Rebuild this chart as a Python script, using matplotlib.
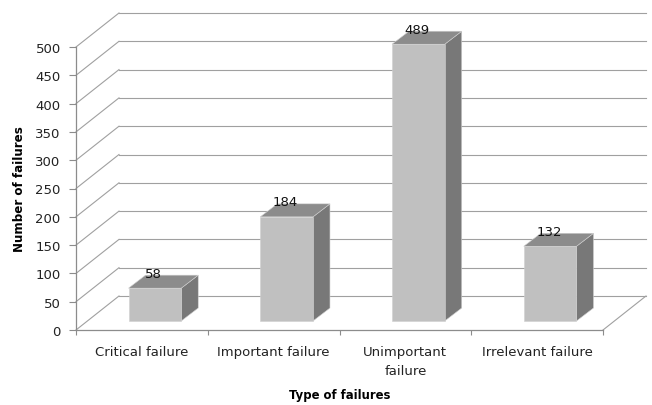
import matplotlib
matplotlib.use('Agg')
import matplotlib.pyplot as plt
import numpy as np
from matplotlib.patches import Polygon
from matplotlib.lines import Line2D
from matplotlib.transforms import IdentityTransform

# ---- data ----
categories = ['Critical failure', 'Important failure', 'Unimportant\nfailure', 'Irrelevant failure']
values = [58, 184, 489, 132]
y_ticks = [0, 50, 100, 150, 200, 250, 300, 350, 400, 450, 500]
x_title = 'Type of failures'
y_title = 'Number of failures'

# ---- style / geometry (pixels) ----
W, H = 652, 406
WALL = (43, 34)        # depth offset of back wall
BAR_OFF = (13, 9)      # offset of bar front face from front plane
BAR_DEPTH = (17, 13)   # depth of bars
BAR_W = 0.40           # bar width in category units
FRONT = '#c0c0c0'
TOP = '#8c8c8c'
SIDE = '#787878'
GRID = '#a0a0a0'
AXIS = '#8c8c8c'

plt.rcParams['font.family'] = ['DejaVu Sans']

fig = plt.figure(figsize=(W / 100, H / 100), dpi=100)
fig.patch.set_facecolor('white')
ax = fig.add_axes([76 / W, (H - 331) / H, (603 - 76) / W, (331 - 48) / H])
ax.set_xlim(0, len(categories))
ax.set_ylim(0, 500)
ax.patch.set_visible(False)
for s in ['top', 'right']:
    ax.spines[s].set_visible(False)
for s in ['left', 'bottom']:
    ax.spines[s].set_color(AXIS)
    ax.spines[s].set_linewidth(0.9)

ax.set_yticks(y_ticks)
ax.set_yticklabels([str(v) for v in y_ticks])
ax.set_xticks(np.arange(len(categories)) + 0.5)
ax.set_xticklabels(categories, linespacing=1.6)
ax.set_xticks(np.arange(len(categories) + 1), minor=True)
ax.tick_params(axis='y', length=5, width=0.8, color=AXIS, pad=6, labelsize=9.5, labelcolor='#222222')
ax.tick_params(axis='x', which='major', length=0, pad=11, labelsize=9.5, labelcolor='#222222')
ax.tick_params(axis='x', which='minor', length=3.5, width=0.8, color=AXIS)
ax.set_xlabel(x_title, fontsize=8.4, fontweight='bold', labelpad=8)
ax.set_ylabel(y_title, fontsize=8.6, fontweight='bold', labelpad=7)

ident = IdentityTransform()


def P(x, v, off=(0, 0), off2=(0, 0)):
    p = ax.transData.transform((x, v))
    return (p[0] + off[0] + off2[0], p[1] + off[1] + off2[1])


def seg(p0, p1, color, lw=0.8, z=1):
    ln = Line2D([p0[0], p1[0]], [p0[1], p1[1]], color=color, lw=lw,
                transform=ident, clip_on=False, zorder=z)
    ax.add_artist(ln)


n = len(categories)
# back wall gridlines and side wall diagonals
for v in y_ticks:
    seg(P(0, v, WALL), P(n, v, WALL), GRID)
    seg(P(0, v), P(0, v, WALL), GRID)
# floor right edge
seg(P(n, 0), P(n, 0, WALL), GRID)

# bars
for i, v in enumerate(values):
    x0 = i + 0.5 - BAR_W / 2
    x1 = i + 0.5 + BAR_W / 2
    front = [P(x0, 0, BAR_OFF), P(x1, 0, BAR_OFF), P(x1, v, BAR_OFF), P(x0, v, BAR_OFF)]
    top = [P(x0, v, BAR_OFF), P(x1, v, BAR_OFF), P(x1, v, BAR_OFF, BAR_DEPTH), P(x0, v, BAR_OFF, BAR_DEPTH)]
    side = [P(x1, 0, BAR_OFF), P(x1, 0, BAR_OFF, BAR_DEPTH), P(x1, v, BAR_OFF, BAR_DEPTH), P(x1, v, BAR_OFF)]
    for pts, col in [(side, SIDE), (top, TOP), (front, FRONT)]:
        ax.add_artist(Polygon(pts, closed=True, facecolor=col, edgecolor='#cfcfcf',
                              lw=0.4, transform=ident, clip_on=False, zorder=3))
    ax.annotate(str(v), xy=(i + 0.5, v), xycoords='data',
                xytext=((BAR_OFF[0] - 1) * 0.72, (BAR_OFF[1] + 15) * 0.72),
                textcoords='offset points', ha='center', va='center',
                fontsize=9.5, color='#111111', zorder=5, annotation_clip=False)

fig.savefig('out.png', dpi=100, facecolor='white')
